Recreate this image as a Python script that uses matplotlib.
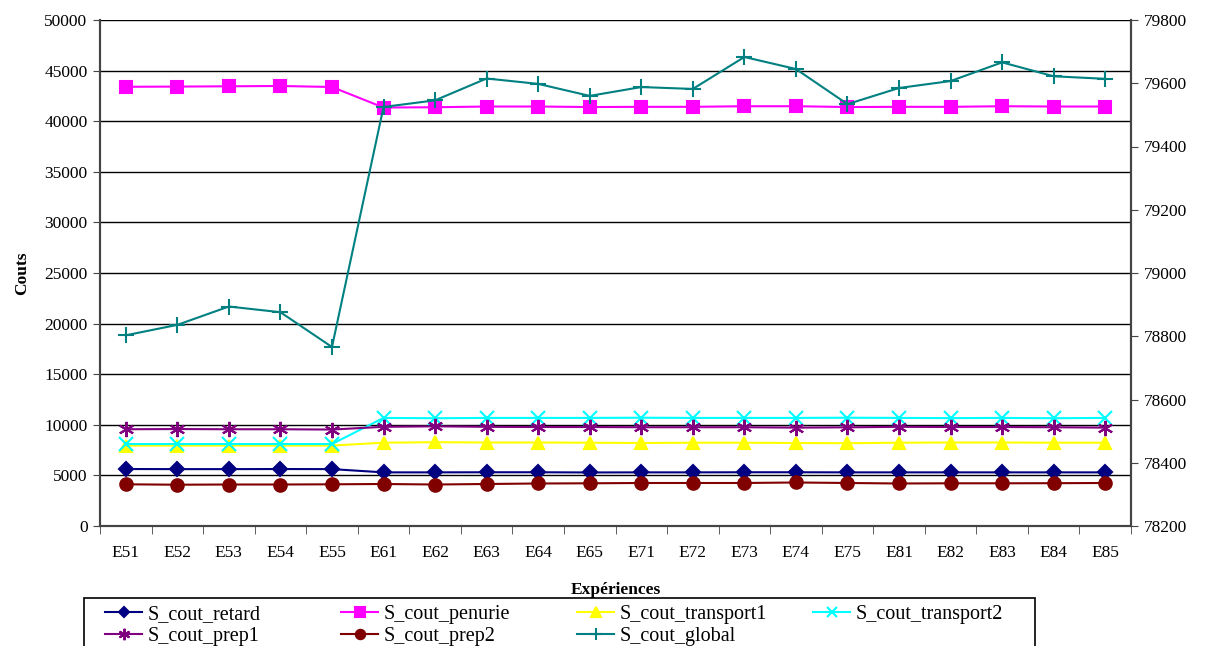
import numpy as np
from matplotlib import pyplot as plt
from matplotlib.patches import Rectangle

experiences = ['E51', 'E52', 'E53', 'E54', 'E55', 'E61', 'E62', 'E63', 'E64', 'E65',
               'E71', 'E72', 'E73', 'E74', 'E75', 'E81', 'E82', 'E83', 'E84', 'E85']

# left axis series
cout_retard = [5630, 5620, 5620, 5630, 5620, 5300, 5300, 5310, 5310, 5290,
               5300, 5300, 5310, 5310, 5300, 5300, 5300, 5300, 5300, 5300]
cout_penurie = [43400, 43420, 43450, 43480, 43380, 41350, 41380, 41450, 41450, 41400,
                41420, 41420, 41480, 41480, 41400, 41420, 41420, 41480, 41450, 41450]
cout_transport1 = [7950, 7950, 7950, 7950, 7950, 8230, 8280, 8250, 8250, 8230,
                   8200, 8230, 8230, 8200, 8180, 8230, 8250, 8250, 8230, 8230]
cout_transport2 = [8100, 8100, 8100, 8100, 8100, 10680, 10650, 10680, 10680, 10680,
                   10700, 10680, 10680, 10680, 10700, 10680, 10660, 10680, 10650, 10680]
cout_prep1 = [9560, 9580, 9560, 9560, 9530, 9800, 9850, 9800, 9780, 9780,
              9760, 9760, 9760, 9720, 9750, 9800, 9780, 9780, 9760, 9720]
cout_prep2 = [4120, 4080, 4100, 4100, 4120, 4150, 4100, 4150, 4200, 4220,
              4250, 4250, 4250, 4300, 4250, 4200, 4220, 4220, 4230, 4250]

# right axis series
cout_global = [78803, 78836, 78894, 78876, 78766, 79525, 79546, 79615, 79598, 79560,
               79588, 79582, 79683, 79645, 79534, 79585, 79607, 79666, 79622, 79614]

plt.rcParams['font.family'] = ['Liberation Serif', 'DejaVu Serif']
plt.rcParams['font.size'] = 12.5

W, H = 1206, 646
fig = plt.figure(figsize=(W / 100, H / 100), dpi=100)
ax = fig.add_axes([100 / W, 1 - 526 / H, 1031 / W, 506 / H])
ax2 = ax.twinx()

x = np.arange(len(experiences))
asterisk = (6, 2, 0)
series = [
    (cout_retard, 'S_cout_retard', '#000080', 'D', 7),
    (cout_penurie, 'S_cout_penurie', '#FF00FF', 's', 9),
    (cout_transport1, 'S_cout_transport1', '#FFFF00', '^', 9),
    (cout_transport2, 'S_cout_transport2', '#00FFFF', 'x', 10),
    (cout_prep1, 'S_cout_prep1', '#800080', asterisk, 11),
    (cout_prep2, 'S_cout_prep2', '#800000', 'o', 9),
]
handles = []
for vals, name, col, mk, ms in series:
    h, = ax.plot(x, vals, color=col, marker=mk, markersize=ms, linewidth=1.5,
                 markeredgewidth=1.5, label=name)
    handles.append(h)
h, = ax2.plot(x, cout_global, color='#008080', marker='+', markersize=11,
              markeredgewidth=1.5, linewidth=1.5, label='S_cout_global')
handles.append(h)

ax.set_ylim(0, 50000)
ax.set_yticks(np.arange(0, 50001, 5000))
ax2.set_ylim(78200, 79800)
ax2.set_yticks(np.arange(78200, 79801, 200))
ax.set_xlim(-0.5, len(experiences) - 0.5)
ax.set_xticks(x)
ax.set_xticklabels(experiences)
ax.set_xticks(np.arange(-0.5, len(experiences)), minor=True)
ax.tick_params(axis='x', which='major', length=0, pad=14)
ax.tick_params(axis='x', which='minor', length=6, direction='out', color='#444444')
ax.tick_params(axis='y', length=5, direction='out', pad=4, color='#444444')
ax2.tick_params(axis='y', length=5, direction='out', pad=4, color='#444444')

ax.grid(axis='y', color='black', linewidth=1)
ax.set_axisbelow(True)
for a in (ax, ax2):
    a.spines['top'].set_visible(False)
    for s in ('left', 'right', 'bottom'):
        a.spines[s].set_color('#444444')
        a.spines[s].set_linewidth(1.5)

ax.set_ylabel('Couts', fontweight='bold', labelpad=10)
ax.set_xlabel('Expériences', fontweight='bold', labelpad=15)

# legend: 4 equal-width columns, filled row by row, inside one frame
fig.patches.append(Rectangle((84 / W, -0.05), (1035 - 84) / W, 0.05 + 1 - 598 / H,
                             transform=fig.transFigure, fill=False,
                             edgecolor='black', linewidth=1.2))
ncol = 4
for c in range(ncol):
    col_handles = handles[c::ncol]
    fig.legend(handles=col_handles, loc='upper left',
               bbox_to_anchor=((105 + c * 236) / W, 1 - 605 / H),
               frameon=False, borderpad=0, borderaxespad=0, fontsize=14.5,
               handlelength=1.85, handletextpad=0.25, labelspacing=0.12,
               markerscale=0.75)

fig.savefig('out.png', dpi=100)
